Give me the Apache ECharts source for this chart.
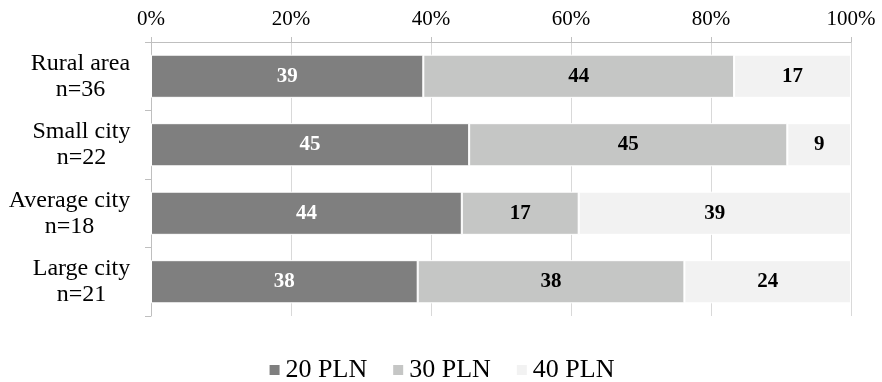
<!DOCTYPE html>
<html>
<head>
    <meta charset="utf-8">
    <title>Price by place of residence</title>
    <script src="https://cdn.jsdelivr.net/npm/echarts@6/dist/echarts.min.js"></script>
</head>
<body style="margin: 0; padding: 0; background: #fff;">
<div id="main" style="width: 882px; height: 382px;"></div>
<script type="text/javascript">
    // categories, top to bottom
    var catNames = ['Rural area', 'Small city', 'Average city', 'Large city'];
    var catN = ['n=36', 'n=22', 'n=18', 'n=21'];
    var seriesNames = ['20 PLN', '30 PLN', '40 PLN'];
    // shares in percent (labels show rounded values)
    var pln20 = [38.9, 45.45, 44.4, 38.1];
    var pln30 = [44.4, 45.45, 16.7, 38.1];
    var pln40 = [16.7, 9.1, 38.9, 23.8];
    var tickStep = 20;

    var serif = '"Liberation Serif", "Times New Roman", serif';
    var colors = ['#7f7f7f', '#c5c6c5', '#f2f2f2'];
    var labelColors = ['#ffffff', '#000000', '#000000'];

    // every category label is centred on its own longest line
    var ctx = document.createElement('canvas').getContext('2d');
    ctx.font = '24px ' + serif;
    var rich = {};
    catNames.forEach(function (name, i) {
        var w = Math.max(ctx.measureText(name).width, ctx.measureText(catN[i]).width);
        rich['c' + i] = {
            width: Math.ceil(w) + 1,
            align: 'center',
            fontFamily: serif,
            fontSize: 24,
            lineHeight: 26,
            color: '#000'
        };
    });

    var myChart = echarts.init(document.getElementById('main'));

    var series = [pln20, pln30, pln40].map(function (vals, k) {
        return {
            name: seriesNames[k],
            type: 'bar',
            stack: 'total',
            barWidth: '63%',
            data: vals,
            itemStyle: {color: colors[k], borderColor: '#fff', borderWidth: 1},
            label: {
                show: true,
                position: 'inside',
                fontFamily: serif,
                fontSize: 21,
                fontWeight: 'bold',
                color: labelColors[k],
                formatter: function (p) {
                    return Math.round(p.value);
                }
            }
        };
    });

    var option = {
        animation: false,
        backgroundColor: '#fff',
        grid: {left: 151, right: 31, top: 42, bottom: 66},
        legend: {
            data: seriesNames,
            left: 'center',
            top: 352,
            icon: 'rect',
            itemWidth: 12,
            itemHeight: 12,
            itemGap: 24,
            textStyle: {fontFamily: serif, fontSize: 26, color: '#000'}
        },
        xAxis: {
            type: 'value',
            position: 'top',
            min: 0,
            max: 100,
            interval: tickStep,
            axisLine: {show: true, lineStyle: {color: '#bfbfbf', width: 1}},
            axisTick: {show: true, length: 5, lineStyle: {color: '#bfbfbf'}},
            splitLine: {show: true, lineStyle: {color: '#d9d9d9', width: 1}},
            axisLabel: {
                margin: 12,
                fontFamily: serif,
                fontSize: 21,
                color: '#000',
                formatter: '{value}%'
            }
        },
        yAxis: {
            type: 'category',
            inverse: true,
            data: catNames,
            axisLine: {show: true, lineStyle: {color: '#bfbfbf', width: 1}},
            axisTick: {show: true, length: 6, lineStyle: {color: '#bfbfbf'}},
            axisLabel: {
                margin: 20,
                formatter: function (value, index) {
                    return '{c' + index + '|' + value + '}\n{c' + index + '|' + catN[index] + '}';
                },
                rich: rich
            }
        },
        series: series
    };

    myChart.setOption(option);
</script>
</body>
</html>
